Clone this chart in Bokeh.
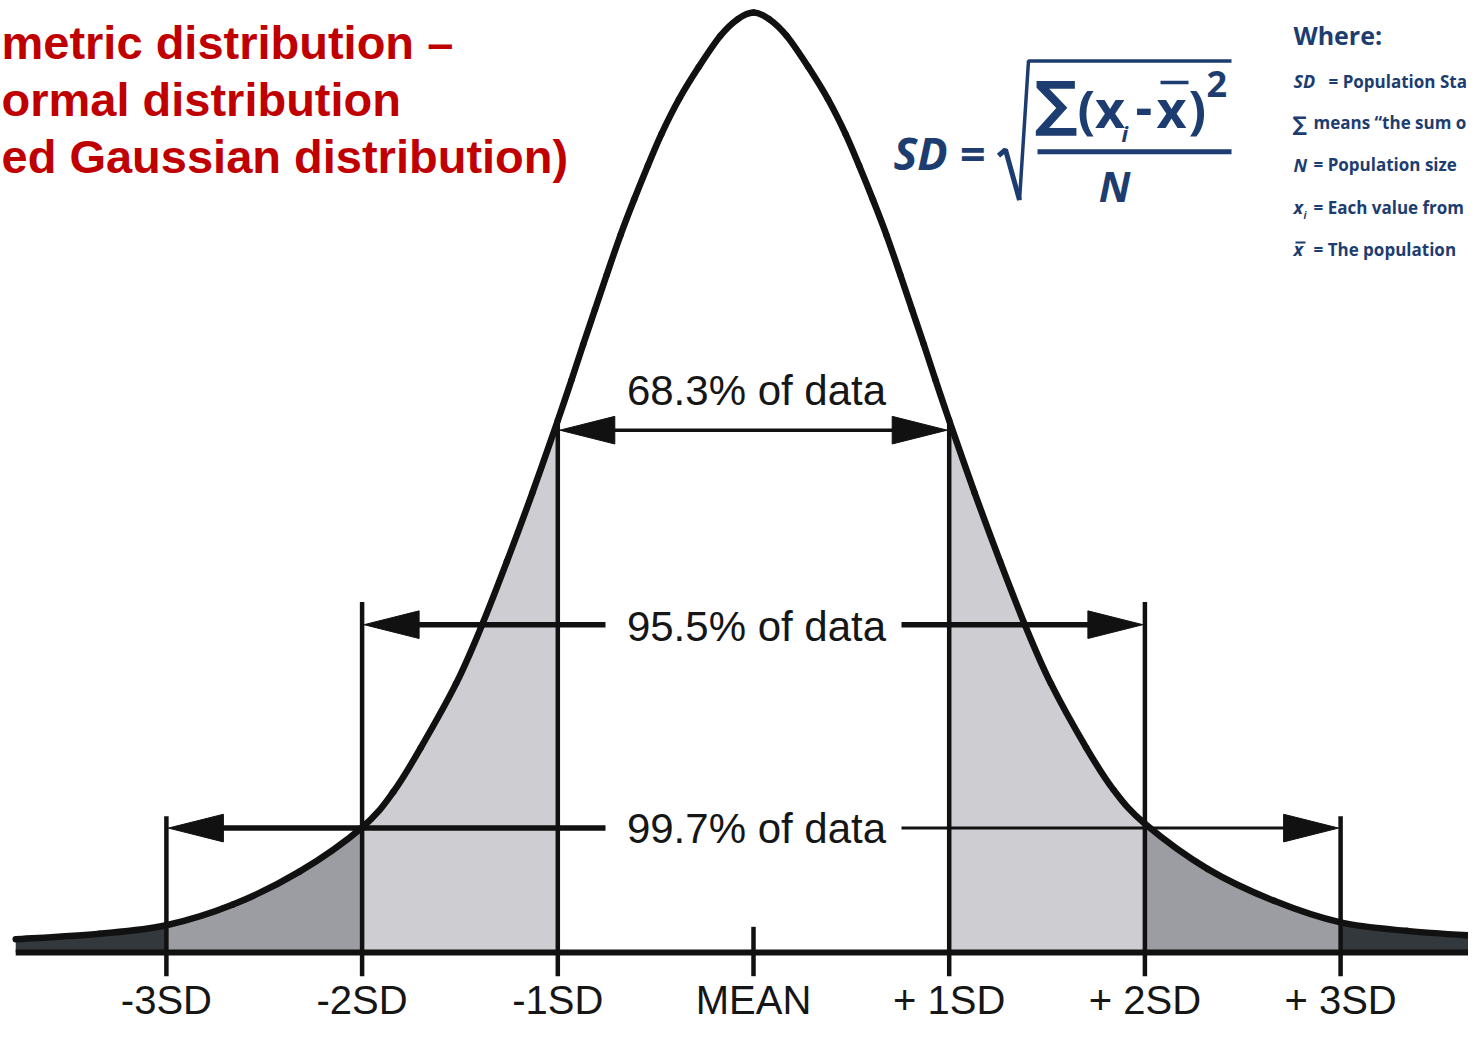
import numpy as np
from bokeh.plotting import figure
from bokeh.models import Range1d
from bokeh.core.properties import value
from bokeh.embed import file_html
from bokeh.resources import INLINE

# ---------------- data ----------------
# bell curve: position in SD units, height relative to the peak
curve_x = [-3.77, -3.34, -3.00, -2.66, -2.32, -2.00, -1.84, -1.70, -1.52, -1.39,
           -1.26, -1.13, -1.00, -0.93, -0.87, -0.81, -0.75, -0.68, -0.61, -0.54,
           -0.47, -0.38, -0.28, -0.17, -0.08, 0.00, 0.08, 0.17, 0.28, 0.38,
           0.47, 0.54, 0.61, 0.68, 0.75, 0.81, 0.87, 0.93, 1.00, 1.13,
           1.26, 1.39, 1.52, 1.70, 1.84, 2.00, 2.32, 2.66, 3.00, 3.34, 3.74]
curve_y = [0.014, 0.020, 0.029, 0.051, 0.086, 0.133, 0.171, 0.218, 0.286, 0.347,
           0.416, 0.489, 0.566, 0.609, 0.647, 0.684, 0.721, 0.763, 0.801, 0.837,
           0.871, 0.908, 0.942, 0.975, 0.993, 1.000, 0.993, 0.975, 0.942, 0.908,
           0.871, 0.837, 0.801, 0.763, 0.721, 0.684, 0.647, 0.609, 0.566, 0.489,
           0.416, 0.347, 0.286, 0.218, 0.173, 0.137, 0.089, 0.055, 0.032, 0.023, 0.017]

sd_positions = [-3, -2, -1, 0, 1, 2, 3]
tick_labels = ["-3SD", "-2SD", "-1SD", "MEAN", "+ 1SD", "+ 2SD", "+ 3SD"]
coverage_sd = [1, 2, 3]
coverage_labels = ["68.3% of data", "95.5% of data", "99.7% of data"]
title_lines = ["metric distribution \u2013", "ormal distribution", "ed Gaussian distribution)"]
legend_heading = "Where:"
legend_symbols = ["SD", "\u2211", "N", "x", "x"]
legend_texts = ["= Population Sta", "means \u201cthe sum o", "= Population size",
                "= Each value from", "= The population"]

# ---------------- layout helpers ----------------
W, H = 1468, 1023
SD_PX, MEAN_PX, BASE_PX, H_PX = 195.7, 753.0, 964.0, 952.0   # reference geometry
C_BASE, C_H = 952.0, 940.0                                     # canvas geometry


def X(px):          # reference pixel -> data x
    return (px - MEAN_PX) / SD_PX


def Y(py):          # reference pixel -> data y
    return (BASE_PX - py) / H_PX


def YC(py):         # canvas pixel -> data y
    return (C_BASE - py) / C_H


ASC = {"Liberation Sans": 0.3465, "Open Sans": 0.388, "DejaVu Sans": 0.346}

NAVY = "#1d3d70"
RED = "#c00000"
INK = "#111111"
LIGHT, MID, DARK = "#cdcdd2", "#9b9da2", "#33383c"

p = figure(width=W, height=H, x_range=Range1d(X(0), X(W)), y_range=Range1d(YC(H), YC(0)),
           output_backend="svg", toolbar_location=None, min_border=0,
           x_axis_location=None, y_axis_location=None, outline_line_color=None,
           background_fill_color="white", border_fill_color="white")
p.xgrid.visible = False
p.ygrid.visible = False

cx = np.array(curve_x)
cy = np.array(curve_y)


def region(a, b):
    m = (cx >= a - 1e-9) & (cx <= b + 1e-9)
    return cx[m], cy[m]


# shaded bands
for (a, b), col in [((-9, -3), DARK), ((3, 9), DARK), ((-3, -2), MID), ((2, 3), MID),
                    ((-2, -1), LIGHT), ((1, 2), LIGHT)]:
    xs, ys = region(a, b)
    p.varea(x=xs, y1=np.zeros_like(xs), y2=ys, fill_color=col)


def curve_at(sd):
    return float(np.interp(sd, cx, cy))


# vertical guide lines + ticks below the baseline
tops = {2: Y(609), 3: Y(826)}
vx0, vy0, vy1 = [], [], []
for s in sd_positions:
    if s == 0:
        top = Y(938)
    elif abs(s) == 1:
        top = curve_at(s)
    else:
        top = tops[abs(s)]
    vx0.append(s)
    vy0.append(Y(988))
    vy1.append(top)
p.segment(x0=vx0, y0=vy0, x1=vx0, y1=vy1, line_color=INK, line_width=4.5)

# baseline
p.segment(x0=[curve_x[0]], y0=[0], x1=[curve_x[-1]], y1=[0], line_color=INK, line_width=6)

# curve drawn as a smooth chain of Bezier segments through the read points
n = len(cx)
bx0, by0, bx1, by1, bcx0, bcy0, bcx1, bcy1 = ([] for _ in range(8))
for i in range(n - 1):
    a = i - 1 if i > 0 else i
    d = i + 2 if i + 2 < n else i + 1
    bx0.append(cx[i]); by0.append(cy[i]); bx1.append(cx[i + 1]); by1.append(cy[i + 1])
    bcx0.append(cx[i] + (cx[i + 1] - cx[a]) / 6); bcy0.append(cy[i] + (cy[i + 1] - cy[a]) / 6)
    bcx1.append(cx[i + 1] - (cx[d] - cx[i]) / 6); bcy1.append(cy[i + 1] - (cy[d] - cy[i]) / 6)
p.bezier(x0=bx0, y0=by0, x1=bx1, y1=by1, cx0=bcx0, cy0=bcy0, cx1=bcx1, cy1=bcy1,
         line_color=INK, line_width=6.5, line_cap="round")

# coverage arrows
arrow_rows = [435, 632, 838]
line_w = [(3.5, 3.5), (5.5, 5.5), (5.5, 3.0)]
gap_l, gap_r = X(605), X(901)
HL, HW = 55 / SD_PX, 14 / H_PX
tip = 2 / SD_PX
hx, hy = [], []
for k, (s, row) in enumerate(zip(coverage_sd, arrow_rows)):
    y = Y(row)
    lt, rt = -s + tip, s - tip
    hx.append([lt, lt + HL, lt + HL]); hy.append([y, y + HW, y - HW])
    hx.append([rt, rt - HL, rt - HL]); hy.append([y, y + HW, y - HW])
    wl, wr = line_w[k]
    if k == 0:
        p.segment(x0=[lt + HL / 2], y0=[y], x1=[rt - HL / 2], y1=[y], line_color=INK, line_width=wl)
    else:
        p.segment(x0=[lt + HL / 2], y0=[y], x1=[gap_l], y1=[y], line_color=INK, line_width=wl)
        p.segment(x0=[gap_r], y0=[y], x1=[rt - HL / 2], y1=[y], line_color=INK, line_width=wr)
p.patches(xs=hx, ys=hy, fill_color=INK, line_color=INK, line_width=1)

LS = "Liberation Sans"
p.text(x=[X(756)] * 3, y=[Y(b - ASC[LS] * 42) for b in (409, 648, 853)], text=coverage_labels,
       text_align="center", text_baseline="middle", text_font=value(LS),
       text_font_size="42px", text_color="#161616")

# tick labels
p.text(x=sd_positions, y=[YC(1013 - ASC[LS] * 40)] * len(sd_positions), text=tick_labels,
       text_align="center", text_baseline="middle", text_font=value(LS),
       text_font_size="40px", text_color="#161616")

# title (the reference shows it cropped at the left edge)
p.text(x=[X(1)] * 3, y=[Y(b - ASC[LS] * 47) for b in (59, 116, 174)], text=title_lines,
       text_align="left", text_baseline="middle", text_font=value(LS),
       text_font_style="bold", text_font_size="47px", text_color=RED)


# ---------------- formula ----------------
def label(x, base, t, size, style="bold", font="Open Sans", align="left", color=NAVY):
    p.text(x=[X(x)], y=[Y(base - ASC[font] * size)], text=[t], text_align=align,
           text_baseline="middle", text_font=value(font), text_font_style=style,
           text_font_size=f"{size}px", text_color=color)


label(893, 171, "SD =", 45, "bold italic")
p.line([X(998), X(1005), X(1019)], [Y(157), Y(151), Y(202)], line_color=NAVY, line_width=5)
p.line([X(1019), X(1028), X(1231)], [Y(202), Y(61), Y(61)], line_color=NAVY, line_width=3.5)
p.line([X(1037), X(1231)], [Y(153), Y(153)], line_color=NAVY, line_width=5)
label(1034, 124, "\u2211", 60, "bold", "DejaVu Sans")
label(1077, 128, "(x", 52)
label(1121, 143, "i", 22, "bold italic")
label(1135, 128, "-", 52)
label(1156, 128, "x", 52)
p.line([X(1160), X(1188)], [Y(83), Y(83)], line_color=NAVY, line_width=3.5)
label(1188, 128, ")", 52)
label(1206, 98, "2", 36)
label(1114, 203, "N", 42, "bold italic", align="center")

# ---------------- legend ----------------
label(1293, 44, legend_heading, 25)
rows = [88, 130, 173, 216, 259]
text_x = [1328, 1313, 1313, 1313, 1313]
for sym, txt, r, tx in zip(legend_symbols, legend_texts, rows, text_x):
    if sym == "\u2211":
        label(1292, r + 2, sym, 20, "bold", "DejaVu Sans")
    else:
        label(1293, r, sym, 18, "bold italic")
    label(tx, r, txt, 17, "bold")
label(1303, rows[3] + 5, "i", 10, "bold italic")
p.line([X(1295), X(1305)], [Y(245), Y(245)], line_color=NAVY, line_width=2)

open("out.html", "w").write(file_html(p, INLINE))
